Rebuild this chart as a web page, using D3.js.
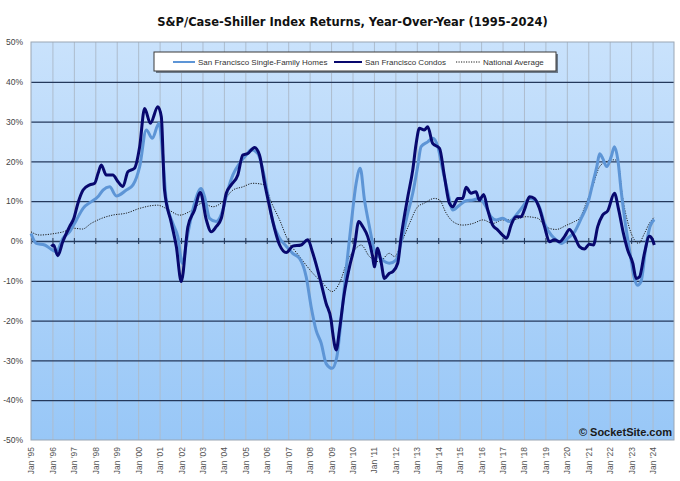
<!DOCTYPE html>
<html>
<head>
<meta charset="utf-8">
<script src="https://cdn.jsdelivr.net/npm/d3@7"></script>
<style>
  body { margin: 0; background: #fff; }
  svg { display: block; font-family: 'Liberation Sans', Arial, sans-serif; }
</style>
</head>
<body>
<div id="chart"></div>
<script>
// year-over-year returns, [decimal year, percent]
const sfHomes = [
  [1995.0, 1.9], [1995.25, -0.6], [1995.64, -1.0], [1995.95, -2.1], [1996.18, -2.7], [1996.49, 0.7],
  [1996.8, 2.3], [1997.12, 5.3], [1997.43, 8.2], [1997.82, 9.9], [1998.12, 11.1], [1998.36, 12.8],
  [1998.67, 13.6], [1998.98, 11.3], [1999.45, 12.8], [1999.76, 14.1], [2000.07, 18.7], [2000.38, 27.9],
  [2000.66, 25.8], [2000.97, 29.6], [2001.15, 21.2], [2001.31, 10.3], [2001.62, 4.4], [2001.85, 1.1],
  [2002.06, -5.6], [2002.32, 1.9], [2002.63, 9.5], [2002.94, 13.2], [2003.1, 11.1], [2003.33, 5.7],
  [2003.64, 4.9], [2003.95, 7.8], [2004.18, 12.8], [2004.42, 16.6], [2004.73, 19.5], [2005.04, 21.6],
  [2005.27, 22.9], [2005.58, 22.0], [2005.82, 17.8], [2006.05, 11.6], [2006.28, 4.9], [2006.6, 0.7],
  [2006.91, -1.3], [2007.21, -3.1], [2007.53, -4.4], [2007.84, -9.0], [2008.07, -16.5], [2008.3, -22.4],
  [2008.54, -25.7], [2008.77, -30.8], [2009.05, -32.0], [2009.27, -29.1], [2009.47, -19.8], [2009.7, -7.3],
  [2009.94, 4.4], [2010.17, 14.5], [2010.36, 18.3], [2010.56, 10.3], [2010.79, 3.6], [2011.02, -2.3],
  [2011.33, -4.4], [2011.72, -5.6], [2012.03, -4.8], [2012.27, -0.2], [2012.58, 7.0], [2012.81, 12.0],
  [2013.04, 18.7], [2013.2, 23.7], [2013.51, 24.9], [2013.74, 25.8], [2013.98, 23.7], [2014.21, 17.8],
  [2014.44, 12.4], [2014.68, 7.8], [2014.99, 9.0], [2015.3, 10.1], [2015.62, 10.3], [2015.92, 10.7],
  [2016.23, 8.6], [2016.46, 6.1], [2016.7, 5.3], [2017.0, 5.7], [2017.33, 4.9], [2017.63, 6.5],
  [2017.94, 8.6], [2018.25, 10.7], [2018.56, 10.1], [2018.72, 8.6], [2018.96, 4.4], [2019.27, 1.5],
  [2019.5, 0.3], [2019.74, -0.6], [2020.05, 0.7], [2020.36, 2.3], [2020.67, 5.7], [2020.98, 9.5],
  [2021.21, 14.5], [2021.4, 18.7], [2021.53, 21.9], [2021.67, 20.8], [2021.86, 18.7], [2022.07, 21.2],
  [2022.22, 23.7], [2022.38, 20.4], [2022.53, 12.8], [2022.73, 4.4], [2022.95, -3.1], [2023.15, -9.4],
  [2023.3, -11.1], [2023.46, -10.2], [2023.69, -1.4], [2023.88, 3.6], [2024.08, 5.4]
]

const sfCondos = [
  [1995.95, -1.4], [1996.05, -1.0], [1996.25, -3.7], [1996.48, -0.2], [1996.8, 3.6], [1997.0, 5.7],
  [1997.19, 9.5], [1997.43, 12.8], [1997.74, 14.1], [1997.97, 14.5], [1998.13, 17.0], [1998.28, 19.1],
  [1998.51, 16.6], [1998.82, 16.6], [1999.06, 14.9], [1999.29, 13.7], [1999.52, 17.4], [1999.83, 18.3],
  [2000.07, 23.7], [2000.3, 33.3], [2000.57, 29.6], [2000.92, 33.7], [2001.08, 31.2], [2001.23, 12.8],
  [2001.55, 4.5], [2001.78, -1.4], [2002.01, -10.2], [2002.32, 3.6], [2002.63, 7.8], [2002.9, 12.2],
  [2003.18, 5.3], [2003.41, 2.3], [2003.64, 3.6], [2003.88, 5.7], [2004.11, 12.0], [2004.34, 14.1],
  [2004.65, 16.6], [2004.88, 21.6], [2005.12, 22.0], [2005.43, 23.5], [2005.66, 21.6], [2005.9, 14.5],
  [2006.13, 8.6], [2006.36, 3.2], [2006.6, -1.0], [2006.91, -2.9], [2007.21, -1.3], [2007.6, -1.0],
  [2007.91, 0.3], [2008.15, -3.1], [2008.46, -9.0], [2008.77, -15.7], [2009.0, -19.8], [2009.08, -23.2],
  [2009.24, -27.4], [2009.39, -22.4], [2009.62, -13.1], [2009.86, -6.5], [2010.09, -1.4], [2010.29, 4.9],
  [2010.48, 3.6], [2010.71, 1.1], [2010.94, -3.9], [2011.02, -6.5], [2011.17, -1.8], [2011.33, -5.2],
  [2011.49, -9.4], [2011.72, -8.1], [2011.88, -7.7], [2012.11, -5.6], [2012.27, 1.1], [2012.58, 11.1],
  [2012.81, 17.8], [2012.97, 24.5], [2013.12, 28.3], [2013.35, 27.9], [2013.51, 28.7], [2013.74, 24.5],
  [2014.06, 23.3], [2014.29, 16.2], [2014.52, 9.5], [2014.68, 8.6], [2014.91, 10.7], [2015.14, 10.7],
  [2015.3, 13.5], [2015.53, 12.0], [2015.76, 12.4], [2015.92, 10.3], [2016.12, 11.7], [2016.31, 7.8],
  [2016.54, 4.0], [2016.77, 2.8], [2017.0, 1.5], [2017.19, 0.7], [2017.4, 4.0], [2017.63, 6.1],
  [2017.86, 6.1], [2018.02, 7.8], [2018.26, 11.1], [2018.49, 10.7], [2018.72, 8.2], [2018.96, 3.6],
  [2019.19, -0.2], [2019.42, 0.3], [2019.66, -0.2], [2019.89, 1.1], [2020.12, 2.9], [2020.36, 1.1],
  [2020.59, -1.4], [2020.82, -2.0], [2021.05, -0.8], [2021.24, -1.0], [2021.44, 3.6], [2021.67, 6.5],
  [2021.91, 7.6], [2022.22, 12.0], [2022.42, 7.8], [2022.64, 1.9], [2022.84, -2.3], [2023.08, -5.6],
  [2023.23, -9.4], [2023.39, -9.0], [2023.62, -3.1], [2023.85, 1.2], [2024.0, 0.3], [2024.08, -1.0]
]

const national = [
  [1995.0, 2.3], [1995.4, 1.5], [1996.0, 1.8], [1996.5, 2.3], [1997.0, 3.2], [1997.4, 3.0],
  [1997.8, 4.4], [1998.3, 5.7], [1998.8, 6.5], [1999.45, 7.0], [2000.07, 8.2], [2000.9, 9.0],
  [2001.3, 8.2], [2001.95, 6.5], [2002.4, 7.4], [2003.0, 9.5], [2003.49, 8.6], [2003.95, 9.9],
  [2004.42, 12.8], [2004.88, 13.6], [2005.35, 14.5], [2005.9, 14.1], [2006.2, 9.9], [2006.6, 5.3],
  [2006.98, 0.3], [2007.53, -3.9], [2008.15, -8.1], [2008.61, -10.6], [2009.05, -12.7], [2009.39, -10.6],
  [2009.78, -4.8], [2010.17, -1.8], [2010.4, -1.0], [2010.79, -3.9], [2011.26, -5.2], [2011.72, -3.1],
  [2011.96, -3.9], [2012.27, -0.6], [2012.66, 4.4], [2013.04, 8.6], [2013.35, 9.5], [2013.82, 10.7],
  [2014.06, 10.3], [2014.37, 7.0], [2014.68, 4.9], [2015.14, 4.0], [2015.62, 4.4], [2016.09, 5.3],
  [2016.54, 4.4], [2017.0, 5.3], [2017.47, 5.3], [2018.09, 6.1], [2018.65, 5.7], [2019.0, 3.6],
  [2019.5, 2.9], [2020.0, 4.0], [2020.36, 4.9], [2020.6, 5.7], [2020.9, 9.5], [2021.2, 13.6],
  [2021.53, 18.7], [2021.83, 19.9], [2022.22, 20.4], [2022.38, 20.0], [2022.6, 11.1], [2022.9, 3.6],
  [2023.15, 0.3], [2023.35, -0.6], [2023.62, 1.9], [2023.85, 4.4], [2024.08, 6.0]
]

const seriesNames = ['San Francisco Single-Family Homes', 'San Francisco Condos', 'National Average']
const yTicks = [-50, -40, -30, -20, -10, 0, 10, 20, 30, 40, 50]
const years = d3.range(1995, 2025)

const margin = { top: 42, left: 31, right: 6, bottom: 41 }
const fullWidth = 680
const fullHeight = 481
const width = fullWidth - margin.left - margin.right
const height = fullHeight - margin.top - margin.bottom

const svg = d3
  .select('#chart')
  .append('svg')
  .attr('width', fullWidth)
  .attr('height', fullHeight)

const defs = svg.append('defs')
const grad = defs
  .append('linearGradient')
  .attr('id', 'bg')
  .attr('x1', 0).attr('y1', 0)
  .attr('x2', 0).attr('y2', 1)
grad.append('stop').attr('offset', '0%').attr('stop-color', '#c9e2fc')
grad.append('stop').attr('offset', '100%').attr('stop-color', '#98c7f7')

const g = svg
  .append('g')
  .attr('transform', 'translate(' + margin.left + ',' + margin.top + ')')

const xPositionScale = d3.scaleLinear().domain([1995, 2025]).range([0, width])
const yPositionScale = d3.scaleLinear().domain([-50, 50]).range([height, 0])

// plot background
g.append('rect')
  .attr('width', width)
  .attr('height', height)
  .attr('fill', 'url(#bg)')

// vertical grid
g.append('g')
  .attr('class', 'axis x-grid')
  .call(d3.axisBottom(xPositionScale).tickValues(years.slice(1)).tickSize(height).tickFormat(''))
g.selectAll('.x-grid line').attr('stroke', '#adbccd').attr('stroke-width', 1)
g.selectAll('.x-grid path').remove()

// horizontal grid
const yGrid = d3.axisLeft(yPositionScale).tickValues(yTicks.slice(1, -1)).tickSize(-width).tickFormat('')
g.append('g').attr('class', 'axis y-grid').call(yGrid)
g.selectAll('.y-grid line').attr('stroke', '#24395c').attr('stroke-width', 1.3)
g.selectAll('.y-grid path').remove()

// little ticks on the zero line
const zeroAxis = d3.axisBottom(xPositionScale).tickValues(years).tickSize(6).tickFormat('')
g.append('g')
  .attr('class', 'axis zero-axis')
  .attr('transform', 'translate(0,' + (yPositionScale(0) - 3) + ')')
  .call(zeroAxis)
g.selectAll('.zero-axis line').attr('stroke', '#24395c')
g.selectAll('.zero-axis path').remove()

// border
g.append('rect')
  .attr('width', width)
  .attr('height', height)
  .attr('fill', 'none')
  .attr('stroke', '#9aa6b4')
  .attr('stroke-width', 1)

// y labels
const yAxis = d3.axisLeft(yPositionScale).tickValues(yTicks).tickSize(0).tickPadding(8).tickFormat(d => d + '%')
g.append('g').attr('class', 'axis y-axis').call(yAxis)
g.selectAll('.y-axis path').remove()
g.selectAll('.y-axis text').attr('font-size', 8.5).attr('fill', '#444').attr('font-family', 'Liberation Sans, Arial, sans-serif')

// x labels
const xAxis = d3
  .axisBottom(xPositionScale)
  .tickValues(years)
  .tickSize(0)
  .tickFormat(d => "Jan '" + String(d).slice(2))
g.append('g')
  .attr('class', 'axis x-axis')
  .attr('transform', 'translate(0,' + height + ')')
  .call(xAxis)
g.selectAll('.x-axis path').remove()
g.selectAll('.x-axis text')
  .attr('transform', 'rotate(-90)')
  .attr('text-anchor', 'end')
  .attr('x', -7)
  .attr('y', 0)
  .attr('dy', '0.35em')
  .attr('font-size', 8.5)
  .attr('fill', '#555')
  .attr('font-family', 'Liberation Sans, Arial, sans-serif')

// lines
const line = d3
  .line()
  .x(d => xPositionScale(d[0]))
  .y(d => yPositionScale(d[1]))
  .curve(d3.curveMonotoneX)

const plot = g.append('g')
plot.append('path')
  .datum(national)
  .attr('d', line)
  .attr('fill', 'none')
  .attr('stroke', '#1a1a1a')
  .attr('stroke-width', 1)
  .attr('stroke-dasharray', '1.2,1.3')
plot.append('path')
  .datum(sfHomes)
  .attr('d', line)
  .attr('fill', 'none')
  .attr('stroke', '#5d95d6')
  .attr('stroke-width', 3)
  .attr('stroke-linejoin', 'round')
plot.append('path')
  .datum(sfCondos)
  .attr('d', line)
  .attr('fill', 'none')
  .attr('stroke', '#08086e')
  .attr('stroke-width', 3)
  .attr('stroke-linejoin', 'round')

// legend
const legend = svg.append('g').attr('transform', 'translate(154,52)')
legend.append('rect')
  .attr('x', 2).attr('y', 2)
  .attr('width', 402).attr('height', 19)
  .attr('fill', '#6c7a8a')
legend.append('rect')
  .attr('width', 402).attr('height', 19)
  .attr('fill', '#fff')
  .attr('stroke', '#3a3a3a')
  .attr('stroke-width', 1)

const legendItems = [
  { x: 19, len: 22, text: seriesNames[0], stroke: '#5d95d6', w: 2, dash: null },
  { x: 180, len: 28, text: seriesNames[1], stroke: '#08086e', w: 2, dash: null },
  { x: 302, len: 24, text: seriesNames[2], stroke: '#1a1a1a', w: 1, dash: '1.2,1.3' }
]
legendItems.forEach(function(d) {
  legend.append('line')
    .attr('x1', d.x).attr('x2', d.x + d.len)
    .attr('y1', 10).attr('y2', 10)
    .attr('stroke', d.stroke)
    .attr('stroke-width', d.w)
    .attr('stroke-dasharray', d.dash)
  legend.append('text')
    .attr('x', d.x + d.len + 3)
    .attr('y', 13)
    .attr('font-size', 8)
    .attr('fill', '#333')
    .text(d.text)
})

// title
svg.append('text')
  .attr('x', margin.left + width / 2)
  .attr('y', 26)
  .attr('text-anchor', 'middle')
  .attr('font-family', 'DejaVu Sans, Verdana, sans-serif')
  .attr('font-weight', 'bold')
  .attr('font-size', 11.5)
  .attr('fill', '#111')
  .text('S&P/Case-Shiller Index Returns, Year-Over-Year (1995-2024)')

// watermark
svg.append('text')
  .attr('x', 672)
  .attr('y', 436)
  .attr('text-anchor', 'end')
  .attr('font-family', 'Liberation Sans, Arial, sans-serif')
  .attr('font-weight', 'bold')
  .attr('font-size', 11)
  .attr('fill', '#1a1a1a')
  .text('© SocketSite.com')
</script>
</body>
</html>
